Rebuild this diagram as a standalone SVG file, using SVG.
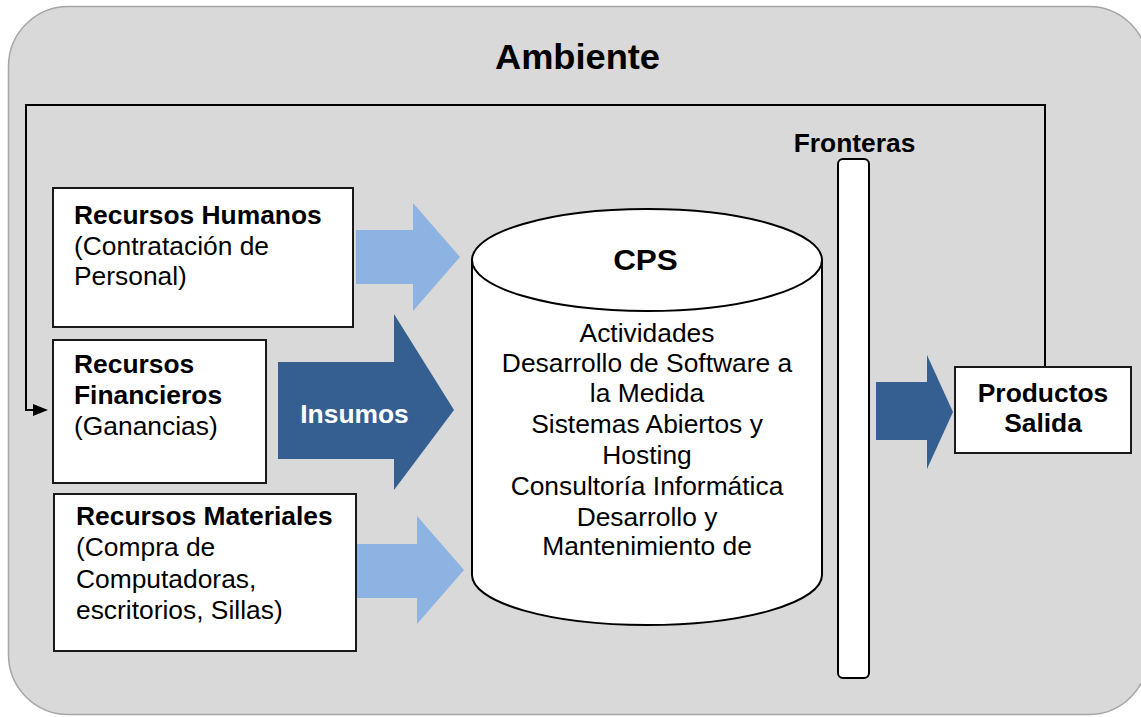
<svg xmlns="http://www.w3.org/2000/svg" width="1141" height="717" viewBox="0 0 1141 717">
<style>
  .t{font-family:"Liberation Sans",Arial,sans-serif;font-size:25px;fill:#000}
  .b{font-weight:bold}
  .c{text-anchor:middle}
  .box{fill:#fff;stroke:#1a1a1a;stroke-width:2}
  .light{fill:#8db3e2}
  .dark{fill:#365f91}
  .ln{fill:none;stroke:#000;stroke-width:2}
</style>
<g id="ambiente">
  <rect x="8.5" y="6.5" width="1140" height="708" rx="60" ry="60" fill="#d9d9d9" stroke="#a6a6a6" stroke-width="1.5"/>
  <text class="t b c" style="font-size:34.5px" transform="translate(577.5,69) scale(1.05,1)">Ambiente</text>
</g>
<g id="connectors">
  <path class="ln" d="M1045,367 V105 H26 V410 H36"/>
  <path d="M33,404 L48,410 L33,416 Z" fill="#000"/>
  <path id="arrow-humanos" class="light" d="M356,230 H413 V203 L460,257 L413,311 V284 H356 Z"/>
  <path id="arrow-insumos" class="dark" d="M278,362 H394 V314 L454,410 L394,490 V459 H278 Z"/>
  <path id="arrow-materiales" class="light" d="M356,544 H417 V516 L464,570 L417,624 V598 H356 Z"/>
  <path id="arrow-salida" class="dark" d="M876,382 H927 V355 L953,412 L927,469 V440 H876 Z"/>
  <text class="t b c" style="fill:#fff" transform="translate(354.5,423) scale(1.056,1)">Insumos</text>
</g>
<g id="recursos-humanos">
  <rect class="box" x="53" y="188" width="300" height="139"/>
  <text class="t" transform="translate(74,224) scale(1.056,1)"><tspan class="b" x="0" y="0">Recursos Humanos</tspan><tspan x="0" y="31">(Contratación de</tspan><tspan x="0" y="61">Personal)</tspan></text>
</g>
<g id="recursos-financieros">
  <rect class="box" x="53" y="340" width="213" height="143"/>
  <text class="t" transform="translate(74,373) scale(1.056,1)"><tspan class="b" x="0" y="0">Recursos</tspan><tspan class="b" x="0" y="31">Financieros</tspan><tspan x="0" y="62">(Ganancias)</tspan></text>
</g>
<g id="recursos-materiales">
  <rect class="box" x="54" y="494" width="302" height="157"/>
  <text class="t" transform="translate(76,525) scale(1.056,1)"><tspan class="b" x="0" y="0">Recursos Materiales</tspan><tspan x="0" y="31">(Compra de</tspan><tspan x="0" y="63">Computadoras,</tspan><tspan x="0" y="94">escritorios, Sillas)</tspan></text>
</g>
<g id="cps">
  <path d="M472,260 V575 A175,50 0 0 0 822,575 V260" fill="#fff" stroke="#000" stroke-width="2"/>
  <ellipse cx="647" cy="260" rx="175" ry="51" fill="#fff" stroke="#000" stroke-width="2"/>
  <text class="t b c" style="font-size:30px" transform="translate(645.5,270) scale(1.05,1)">CPS</text>
  <text class="t c" transform="translate(647,342) scale(1.056,1)"><tspan x="0" y="0">Actividades</tspan><tspan x="0" y="30.5">Desarrollo de Software a</tspan><tspan x="0" y="60.5">la Medida</tspan><tspan x="0" y="91">Sistemas Abiertos y</tspan><tspan x="0" y="122">Hosting</tspan><tspan x="0" y="153">Consultoría Informática</tspan><tspan x="0" y="184">Desarrollo y</tspan><tspan x="0" y="213">Mantenimiento de</tspan></text>
</g>
<g id="fronteras">
  <rect x="838" y="159" width="31" height="519" rx="5" ry="5" fill="#fff" stroke="#000" stroke-width="2"/>
  <text class="t b c" transform="translate(854.5,152) scale(1.056,1)">Fronteras</text>
</g>
<g id="productos-salida">
  <rect class="box" x="955" y="367" width="176" height="86"/>
  <text class="t b c" transform="translate(1043,402) scale(1.056,1)"><tspan x="0" y="0">Productos</tspan><tspan x="0" y="30">Salida</tspan></text>
</g>
</svg>
